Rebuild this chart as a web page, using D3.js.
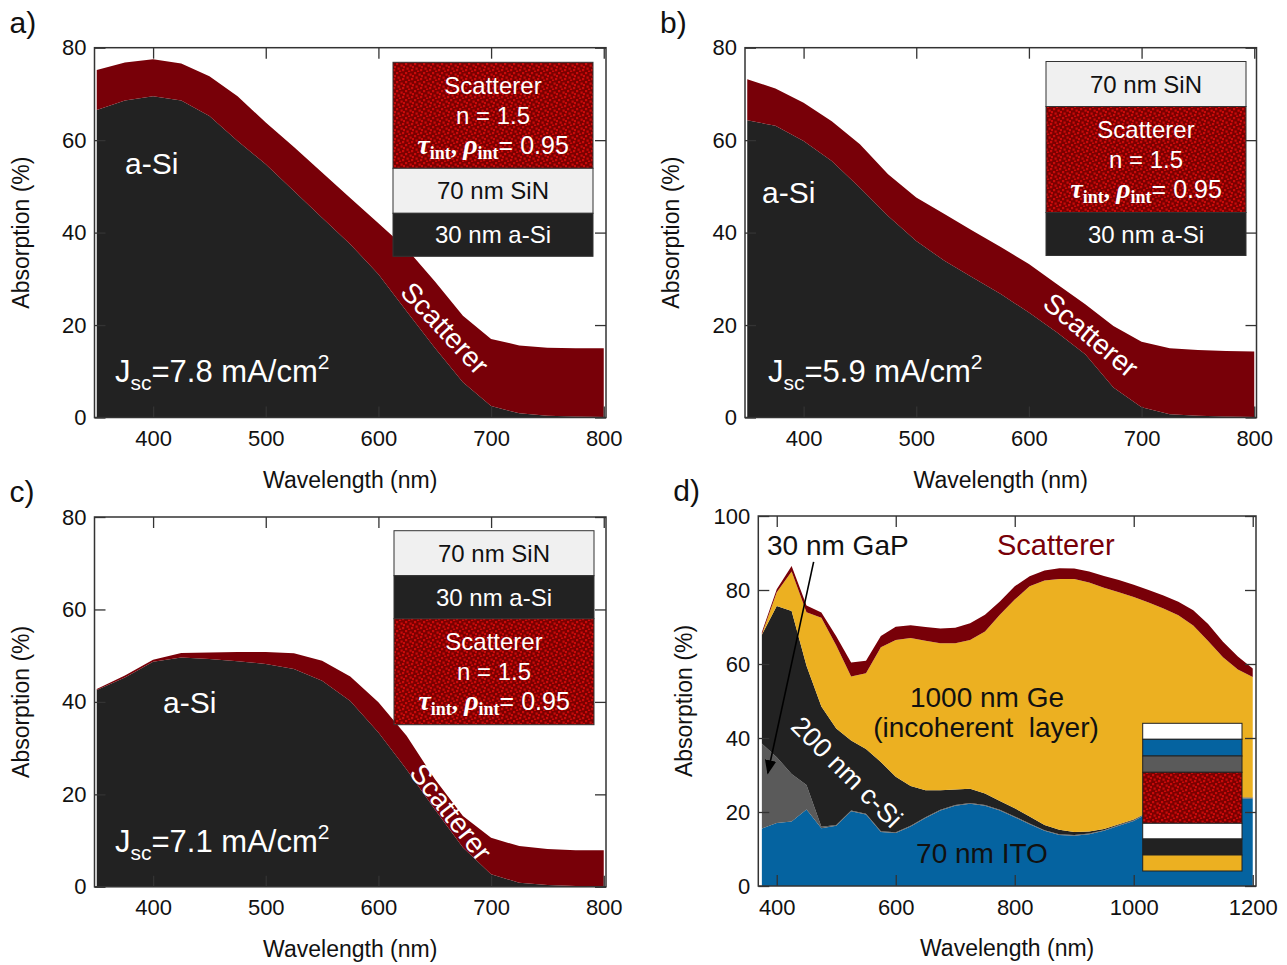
<!DOCTYPE html>
<html>
<head>
<meta charset="utf-8">
<script src="https://cdn.jsdelivr.net/npm/d3@7"></script>
<style>
  body { margin: 0; background: #fff; }
  svg text { font-family: "Liberation Sans", Arial, sans-serif; }
</style>
</head>
<body>
<div id="chart"></div>
<script>
// wavelength grid of panels a-c (nm)
const wlABC = [350, 375, 400, 425, 450, 475, 500, 525, 550, 575, 600, 625, 650, 675, 700, 725, 750, 775, 800];

// absorption (%) per layer
const aSiA  = [66.5, 68.6, 69.5, 68.6, 65.2, 59.8, 54.8, 49.0, 43.2, 37.5, 31.0, 23.0, 15.1, 7.6, 2.5, 0.9, 0.4, 0.2, 0.1];
const scatA = [8.7, 8.2, 8.0, 8.0, 8.6, 9.7, 9.0, 9.5, 9.8, 10.0, 11.0, 13.5, 14.4, 14.4, 14.5, 14.7, 14.7, 14.8, 14.9];

const aSiB  = [64.3, 63.1, 59.8, 55.5, 49.7, 43.6, 38.2, 33.9, 30.3, 26.7, 22.7, 18.4, 13.7, 6.5, 2.2, 0.7, 0.4, 0.2, 0.1];
const scatB = [8.9, 8.1, 8.3, 8.6, 9.4, 9.0, 9.4, 10.1, 10.1, 10.2, 10.5, 10.4, 10.8, 13.3, 14.2, 14.3, 14.2, 14.2, 14.2];

const aSiC  = [42.6, 45.3, 48.7, 49.6, 49.3, 48.8, 48.2, 47.1, 44.6, 40.2, 33.4, 25.4, 16.8, 8.5, 2.7, 0.9, 0.4, 0.2, 0.1];
const scatC = [0.2, 0.4, 0.4, 1.0, 1.4, 2.0, 2.6, 3.4, 4.3, 5.3, 6.5, 7.3, 6.5, 6.8, 7.9, 7.9, 7.8, 7.7, 7.8];

// panel d (nm)
const wlD = [375, 400, 425, 450, 475, 500, 525, 550, 575, 600, 625, 650, 675, 700, 725, 750, 775, 800,
             825, 850, 875, 900, 925, 950, 975, 1000, 1025, 1050, 1075, 1100, 1125, 1150, 1175, 1200];
const itoD  = [15.5, 17.0, 17.4, 20.7, 15.6, 16.3, 20.2, 19.3, 14.6, 14.3, 16.1, 18.4, 20.4, 21.7, 22.2, 21.7, 20.4, 18.6,
               16.7, 14.9, 13.8, 13.6, 14.0, 14.9, 16.3, 17.6, 19.8, 21.0, 21.8, 22.4, 22.9, 23.3, 23.7, 23.6];
const gapD  = [23.0, 17.8, 12.9, 6.6, 0.4, 0.2, 0.2, 0.2, 0.2, 0.2, 0.2, 0.2, 0.2, 0.2, 0.2, 0.2, 0.2, 0.2,
               0.2, 0.2, 0.2, 0.2, 0.2, 0.2, 0.2, 0.2, 0.2, 0.2, 0.2, 0.2, 0.2, 0.2, 0.2, 0.2];
const cSiD  = [29.4, 40.9, 44.0, 32.2, 32.5, 26.1, 18.9, 17.5, 18.7, 15.0, 10.7, 7.3, 5.3, 4.2, 3.9, 3.1, 2.4, 2.2,
               1.9, 1.4, 1.2, 0.8, 0.5, 0.3, 0.2, 0.2, 0.1, 0.1, 0.1, 0.1, 0.1, 0.1, 0.1, 0.1];
const geD   = [0.1, 3.7, 10.7, 14.5, 24.0, 22.4, 17.3, 20.5, 31.0, 37.0, 40.0, 40.4, 39.7, 39.5, 40.2, 43.8, 50.3, 56.4,
               62.2, 66.1, 67.8, 68.4, 67.3, 65.2, 62.7, 60.1, 56.5, 53.7, 51.1, 47.7, 43.0, 38.2, 34.5, 32.6];
const scatD = [0.6, 0.8, 1.5, 1.8, 1.4, 2.5, 3.8, 3.4, 3.1, 3.6, 3.5, 3.7, 4.0, 4.2, 4.5, 4.5, 3.6, 3.6,
               2.7, 2.7, 2.9, 2.8, 3.0, 3.2, 3.3, 3.3, 3.4, 3.5, 3.6, 4.1, 4.6, 4.2, 3.5, 2.3];

const xTicksABC = [400, 500, 600, 700, 800];
const yTicksABC = [0, 20, 40, 60, 80];
const xTicksD = [400, 600, 800, 1000, 1200];
const yTicksD = [0, 20, 40, 60, 80, 100];

const col = {
  scat: "#780008", asi: "#222222", ito: "#0563a0", gap: "#5a5a5a", ge: "#ecb021", sin: "#f0f0f0"
};

const svg = d3.select("#chart").append("svg")
  .attr("width", 1287).attr("height", 965);

// speckled pattern for the scatterer layer in the insets
const defs = svg.append("defs");
const pat = defs.append("pattern").attr("id", "scatPat")
  .attr("patternUnits", "userSpaceOnUse").attr("width", 9).attr("height", 9);
pat.append("rect").attr("width", 9).attr("height", 9).attr("fill", "#7a0000");
[[0, 0], [4.5, 1.5], [1.5, 4.5], [6, 6], [7, 3], [3, 7.5]].forEach(p => {
  pat.append("rect").attr("x", p[0]).attr("y", p[1]).attr("width", 2.2).attr("height", 2.2).attr("fill", "#c80a0a");
});
defs.append("marker").attr("id", "arrow")
  .attr("viewBox", "0 0 10 10").attr("refX", 9).attr("refY", 5)
  .attr("markerWidth", 9).attr("markerHeight", 9).attr("orient", "auto")
  .append("path").attr("d", "M0,1 L10,5 L0,9 z").attr("fill", "#000");

function drawPanel(cfg) {
  const x = d3.scaleLinear().domain(cfg.xDomain).range([cfg.left, cfg.right]);
  const y = d3.scaleLinear().domain(cfg.yDomain).range([cfg.bottom, cfg.top]);

  const rows = cfg.wl.map((w, i) => {
    const r = { wl: w };
    cfg.layers.forEach(l => r[l.key] = l.values[i]);
    return r;
  });
  const series = d3.stack().keys(cfg.layers.map(l => l.key))(rows);
  const area = d3.area()
    .x(d => x(d.data.wl))
    .y0(d => y(d[0]))
    .y1(d => y(d[1]));

  svg.append("g").selectAll("path")
    .data(series)
    .join("path")
    .attr("d", area)
    .attr("fill", (d, i) => cfg.layers[i].color);

  // ticks inside, on all four sides
  const tick = 11;
  const styleAxis = g => {
    g.select(".domain").remove();
    g.selectAll("line").attr("stroke", "#333").attr("stroke-width", 1.3);
    g.selectAll("text").attr("font-size", 22).attr("fill", "#111");
  };
  svg.append("g").attr("transform", `translate(0,${cfg.bottom})`)
    .call(d3.axisBottom(x).tickValues(cfg.xTicks).tickSize(-tick).tickPadding(13).tickFormat(d3.format("d")))
    .call(styleAxis);
  svg.append("g").attr("transform", `translate(0,${cfg.top})`)
    .call(d3.axisTop(x).tickValues(cfg.xTicks).tickSize(-tick).tickFormat(""))
    .call(styleAxis);
  svg.append("g").attr("transform", `translate(${cfg.left},0)`)
    .call(d3.axisLeft(y).tickValues(cfg.yTicks).tickSize(-tick).tickPadding(8))
    .call(styleAxis);
  svg.append("g").attr("transform", `translate(${cfg.right},0)`)
    .call(d3.axisRight(y).tickValues(cfg.yTicks).tickSize(-tick).tickFormat(""))
    .call(styleAxis);

  svg.append("rect")
    .attr("x", cfg.left).attr("y", cfg.top)
    .attr("width", cfg.right - cfg.left).attr("height", cfg.bottom - cfg.top)
    .attr("fill", "none").attr("stroke", "#333").attr("stroke-width", 1.5);

  svg.append("text")
    .attr("x", (cfg.left + cfg.right) / 2).attr("y", cfg.bottom + 70)
    .attr("text-anchor", "middle").attr("font-size", 23).attr("fill", "#111")
    .text("Wavelength (nm)");
  svg.append("text")
    .attr("transform", `translate(${cfg.left - 66},${(cfg.top + cfg.bottom) / 2}) rotate(-90)`)
    .attr("text-anchor", "middle").attr("font-size", 23).attr("fill", "#111")
    .text("Absorption (%)");

  svg.append("text")
    .attr("x", cfg.left - 85).attr("y", cfg.top - 15)
    .attr("font-family", "'Open Sans', sans-serif").attr("font-size", 30).attr("fill", "#111")
    .text(cfg.letter);

  return { x, y };
}

// white label with a J_sc value
function jscLabel(px, py, val) {
  const t = svg.append("text").attr("x", px).attr("y", py)
    .attr("font-size", 31).attr("fill", "#fff");
  t.append("tspan").text("J");
  t.append("tspan").attr("font-size", 21).attr("dy", 8).text("sc");
  t.append("tspan").attr("dy", -8).text(`=${val} mA/cm`);
  t.append("tspan").attr("font-size", 21).attr("dy", -13).text("2");
}

function plainLabel(px, py, txt, opts = {}) {
  return svg.append("text").attr("x", px).attr("y", py)
    .attr("font-size", opts.size || 30).attr("fill", opts.fill || "#fff")
    .attr("text-anchor", opts.anchor || "start")
    .style("white-space", "pre")
    .text(txt);
}

function rotatedLabel(cx, cy, angle, txt, size) {
  svg.append("text")
    .attr("transform", `translate(${cx},${cy}) rotate(${angle})`)
    .attr("text-anchor", "middle").attr("dy", "0.35em")
    .attr("font-size", size).attr("fill", "#fff")
    .text(txt);
}

// stacked-layer legend box for panels a-c
function layerLegend(x0, y0, order) {
  const w = 200;
  const h = { scat: 106, sin: 45, asi: 43 };
  const g = svg.append("g");
  let yy = y0;
  order.forEach(k => {
    g.append("rect").attr("x", x0).attr("y", yy).attr("width", w).attr("height", h[k])
      .attr("fill", k === "scat" ? "url(#scatPat)" : (k === "sin" ? col.sin : col.asi))
      .attr("stroke", "#333").attr("stroke-width", 1);
    const cx = x0 + w / 2, cy = yy + h[k] / 2 + 8.5;
    if (k === "sin") {
      g.append("text").attr("x", cx).attr("y", cy).attr("text-anchor", "middle")
        .attr("font-size", 24).attr("fill", "#111").text("70 nm SiN");
    } else if (k === "asi") {
      g.append("text").attr("x", cx).attr("y", cy).attr("text-anchor", "middle")
        .attr("font-size", 24).attr("fill", "#fff").text("30 nm a-Si");
    } else {
      g.append("text").attr("x", cx).attr("y", cy - 30).attr("text-anchor", "middle")
        .attr("font-size", 24).attr("fill", "#fff").text("Scatterer");
      g.append("text").attr("x", cx).attr("y", cy).attr("text-anchor", "middle")
        .attr("font-size", 24).attr("fill", "#fff").text("n = 1.5");
      const t = g.append("text").attr("x", cx).attr("y", cy + 30).attr("text-anchor", "middle")
        .attr("font-size", 25).attr("fill", "#fff");
      const serif = "'Liberation Serif', 'DejaVu Serif', serif";
      t.append("tspan").attr("font-family", serif).attr("font-weight", "bold").attr("font-style", "italic").attr("font-size", 28).text("τ");
      t.append("tspan").attr("font-family", serif).attr("font-weight", "bold").attr("font-size", 18).attr("dy", 5).text("int");
      t.append("tspan").attr("font-family", serif).attr("font-weight", "bold").attr("font-size", 25).attr("dy", -5).text(", ");
      t.append("tspan").attr("font-family", serif).attr("font-weight", "bold").attr("font-style", "italic").attr("font-size", 28).text("ρ");
      t.append("tspan").attr("font-family", serif).attr("font-weight", "bold").attr("font-size", 18).attr("dy", 5).text("int");
      t.append("tspan").attr("dy", -5).text("= 0.95");
    }
    yy += h[k];
  });
}

// ---- panel a
drawPanel({
  letter: "a)", wl: wlABC, xDomain: [348, 802], yDomain: [0, 80],
  left: 94.5, right: 606, top: 47.7, bottom: 417.5,
  xTicks: xTicksABC, yTicks: yTicksABC,
  layers: [{ key: "asi", values: aSiA, color: col.asi }, { key: "scat", values: scatA, color: col.scat }]
});
plainLabel(125, 174, "a-Si");
jscLabel(115, 382, "7.8");
rotatedLabel(445, 328, 47, "Scatterer", 28);
layerLegend(393, 62.3, ["scat", "sin", "asi"]);

// ---- panel b
drawPanel({
  letter: "b)", wl: wlABC, xDomain: [348, 802], yDomain: [0, 80],
  left: 745, right: 1256.5, top: 47.7, bottom: 417.5,
  xTicks: xTicksABC, yTicks: yTicksABC,
  layers: [{ key: "asi", values: aSiB, color: col.asi }, { key: "scat", values: scatB, color: col.scat }]
});
plainLabel(762, 203, "a-Si");
jscLabel(768, 382, "5.9");
rotatedLabel(1091, 335, 40, "Scatterer", 28);
layerLegend(1046, 61.5, ["sin", "scat", "asi"]);

// ---- panel c
drawPanel({
  letter: "c)", wl: wlABC, xDomain: [348, 802], yDomain: [0, 80],
  left: 94.5, right: 606, top: 517, bottom: 886.8,
  xTicks: xTicksABC, yTicks: yTicksABC,
  layers: [{ key: "asi", values: aSiC, color: col.asi }, { key: "scat", values: scatC, color: col.scat }]
});
plainLabel(163, 713, "a-Si");
jscLabel(115, 852, "7.1");
rotatedLabel(451, 812, 52, "Scatterer", 28);
layerLegend(394, 530.7, ["sin", "asi", "scat"]);

// ---- panel d
const d = drawPanel({
  letter: "d)", wl: wlD, xDomain: [369, 1205.5], yDomain: [0, 100],
  left: 758.3, right: 1256, top: 516, bottom: 886,
  xTicks: xTicksD, yTicks: yTicksD,
  layers: [
    { key: "ito", values: itoD, color: col.ito },
    { key: "gap", values: gapD, color: col.gap },
    { key: "csi", values: cSiD, color: col.asi },
    { key: "ge", values: geD, color: col.ge },
    { key: "scat", values: scatD, color: col.scat }
  ]
});
plainLabel(767, 555, "30 nm GaP", { size: 28, fill: "#111" });
plainLabel(997, 555, "Scatterer", { size: 29, fill: col.scat });
plainLabel(987, 707, "1000 nm Ge", { size: 28, fill: "#111", anchor: "middle" });
plainLabel(986, 737, "(incoherent  layer)", { size: 28, fill: "#111", anchor: "middle" });
plainLabel(982, 863, "70 nm ITO", { size: 28, fill: "#111", anchor: "middle" });
rotatedLabel(847, 772, 45, "200 nm c-Si", 27);

svg.append("line")
  .attr("x1", d.x(462)).attr("y1", d.y(87.6))
  .attr("x2", d.x(385)).attr("y2", d.y(30.5))
  .attr("stroke", "#000").attr("stroke-width", 1.6)
  .attr("marker-end", "url(#arrow)");

// layer stack inset of panel d
const insetRows = [
  { h: 16, fill: "#ffffff" }, { h: 16.7, fill: col.ito }, { h: 16.3, fill: col.gap },
  { h: 51, fill: "url(#scatPat)" }, { h: 15.7, fill: "#ffffff" }, { h: 16, fill: col.asi }, { h: 16, fill: col.ge }
];
let iy = 723.3;
insetRows.forEach(r => {
  svg.append("rect").attr("x", 1142.7).attr("y", iy).attr("width", 99.3).attr("height", r.h)
    .attr("fill", r.fill).attr("stroke", "#222").attr("stroke-width", 1);
  iy += r.h;
});
</script>
</body>
</html>
